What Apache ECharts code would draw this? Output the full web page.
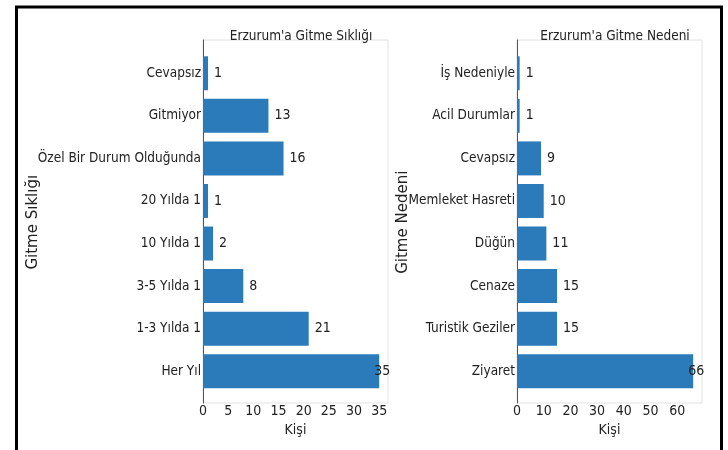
<!DOCTYPE html>
<html lang="tr">
<head>
    <meta charset="UTF-8">
    <script src="https://cdn.jsdelivr.net/npm/echarts@6/dist/echarts.min.js"></script>
    <title>Erzurum</title>
</head>
<body style="margin:0;background:#fff;">
    <div id="chart" style="width: 728px;height: 450px;"></div>
    <script>
        // sol grafik: gitme sıklığı (yukarıdan aşağıya)
        var siklikKategori = ['Cevapsız', 'Gitmiyor', 'Özel Bir Durum Olduğunda', '20 Yılda 1', '10 Yılda 1', '3-5 Yılda 1', '1-3 Yılda 1', 'Her Yıl'];
        var siklikDeger = [1, 13, 16, 1, 2, 8, 21, 35];
        // sağ grafik: gitme nedeni
        var nedenKategori = ['İş Nedeniyle', 'Acil Durumlar', 'Cevapsız', 'Memleket Hasreti', 'Düğün', 'Cenaze', 'Turistik Geziler', 'Ziyaret'];
        var nedenDeger = [1, 1, 9, 10, 11, 15, 15, 66];

        var barColor = '#2b7bba';
        var font = "'DejaVu Sans Condensed', 'DejaVu Sans'";
        var nameFont = "'DejaVu Sans'";
        var textColor = '#222';
        var fs = 14;
        var catFs = 13.5;

        function barData(values) {
            var max = Math.max.apply(null, values);
            return values.map(function (v) {
                if (v === max) {
                    return { value: v, label: { offset: [-11, 0] } };
                }
                return v;
            });
        }

        function valueAxis(grid, max, interval) {
            return {
                gridIndex: grid, type: 'value', min: 0, max: max, interval: interval,
                name: 'Kişi', nameLocation: 'middle', nameGap: 29,
                nameTextStyle: { fontSize: fs, color: textColor, fontFamily: font },
                axisLine: { show: false }, axisTick: { show: false }, splitLine: { show: false },
                axisLabel: { fontSize: fs, color: textColor, margin: 12, showMaxLabel: false, fontFamily: font }
            };
        }

        function catAxis(grid, data, name, gap) {
            return {
                gridIndex: grid, type: 'category', data: data, inverse: true,
                name: name, nameLocation: 'middle', nameRotate: 90, nameGap: gap, nameMoveOverlap: false,
                nameTextStyle: { fontSize: 15, color: textColor, fontFamily: nameFont },
                axisLine: { show: false }, axisTick: { show: false },
                axisLabel: { fontSize: catFs, color: textColor, margin: 2, fontFamily: font }
            };
        }

        function frameAxis(grid) {
            return {
                gridIndex: grid, type: 'value',
                axisLine: { show: true, lineStyle: { color: '#555', width: 1 } },
                axisLabel: { show: false }, axisTick: { show: false }, splitLine: { show: false }
            };
        }

        var chart = echarts.init(document.getElementById('chart'));
        chart.setOption({
            backgroundColor: '#fff',
            textStyle: { fontFamily: font },
            title: [
                { text: "Erzurum'a Gitme Sıklığı", left: 296, top: 24, textAlign: 'center',
                  textStyle: { fontSize: catFs, fontWeight: 'normal', color: textColor, fontFamily: font } },
                { text: "Erzurum'a Gitme Nedeni", left: 610, top: 24, textAlign: 'center',
                  textStyle: { fontSize: catFs, fontWeight: 'normal', color: textColor, fontFamily: font } }
            ],
            grid: [
                // çerçeveler
                { left: 203, width: 185, top: 40, height: 363, show: true, borderColor: '#e2e2e2', borderWidth: 1 },
                { left: 517, width: 185, top: 40, height: 363, show: true, borderColor: '#e2e2e2', borderWidth: 1 },
                // çubuklar
                { left: 203, width: 185, top: 52, height: 340.5 },
                { left: 517, width: 185, top: 52, height: 340.5 }
            ],
            xAxis: [
                { gridIndex: 0, type: 'value', show: false },
                { gridIndex: 1, type: 'value', show: false },
                valueAxis(2, 36.75, 5),
                valueAxis(3, 69.3, 10)
            ],
            yAxis: [
                frameAxis(0),
                frameAxis(1),
                catAxis(2, siklikKategori, 'Gitme Sıklığı', 162),
                catAxis(3, nedenKategori, 'Gitme Nedeni', 106)
            ],
            series: [
                {
                    type: 'bar', xAxisIndex: 2, yAxisIndex: 2, barWidth: 34,
                    data: barData(siklikDeger),
                    itemStyle: { color: barColor },
                    label: { show: true, position: 'right', distance: 6, fontSize: fs, color: textColor, fontFamily: font }
                },
                {
                    type: 'bar', xAxisIndex: 3, yAxisIndex: 3, barWidth: 34,
                    data: barData(nedenDeger),
                    itemStyle: { color: barColor },
                    label: { show: true, position: 'right', distance: 6, fontSize: fs, color: textColor, fontFamily: font }
                }
            ],
            graphic: [
                {
                    type: 'rect', silent: true,
                    shape: { x: 16.5, y: 7, width: 705, height: 446 },
                    style: { fill: null, stroke: '#000', lineWidth: 3 }
                }
            ]
        });
    </script>
</body>
</html>
